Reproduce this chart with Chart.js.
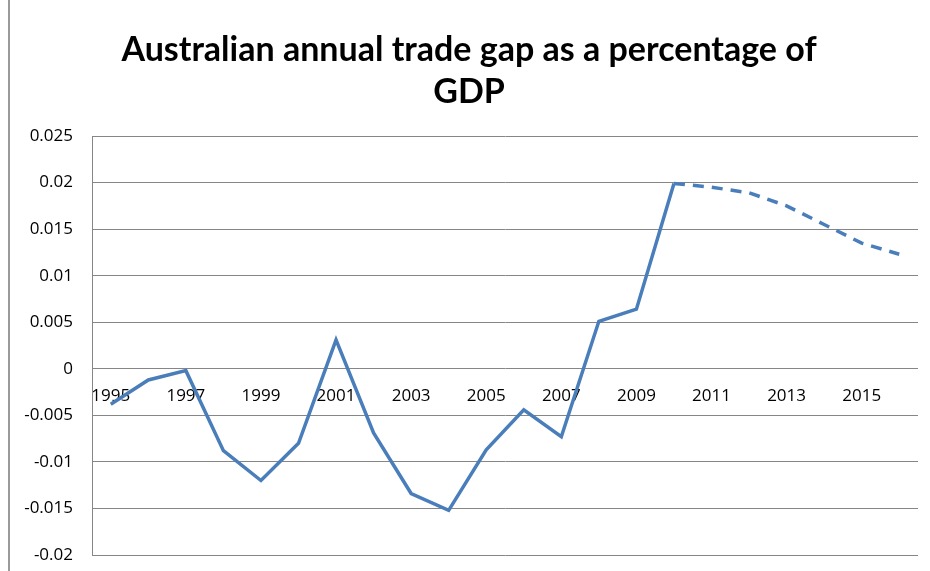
<!DOCTYPE html>
<html>
<head>
<meta charset="utf-8">
<title>Australian annual trade gap</title>
<script src="https://cdn.jsdelivr.net/npm/chart.js@4"></script>
<style>
  html, body { margin: 0; padding: 0; background: #fff; }
  #wrap { position: relative; width: 930px; height: 571px; }
  #edge { position: absolute; left: 8px; top: 0; bottom: 0; border-left: 2px solid #9a9a9a; }
</style>
</head>
<body>
<div id="wrap">
  <div id="edge"></div>
  <canvas id="chart"></canvas>
</div>
<script>
const years = ["1995", "1996", "1997", "1998", "1999", "2000", "2001", "2002",
  "2003", "2004", "2005", "2006", "2007", "2008", "2009", "2010",
  "2011", "2012", "2013", "2014", "2015", "2016"]

// recorded gap, 1995 to 2010
const actualGap = [-0.0038, -0.0012, -0.0002, -0.0088, -0.0120, -0.0080, 0.0031, -0.0069,
  -0.0134, -0.0152, -0.0087, -0.0044, -0.0073, 0.0051, 0.0064, 0.0199]

// projected gap, 2011 to 2016
const projectedGap = [0.0195, 0.0189, 0.0175, 0.0155, 0.0135, 0.0123]

const yTicks = { min: -0.02, max: 0.025, step: 0.005 }

const lineColor = "#4a7ebb"
const gridColor = "#868686"
const tickFont = { family: "Open Sans", size: 17 }
const lastActual = actualGap.length - 1

new Chart(document.getElementById("chart"), {
  type: "line",
  data: {
    labels: years,
    datasets: [{
      data: actualGap.concat(projectedGap),
      borderColor: lineColor,
      borderWidth: 3.5,
      pointRadius: 0,
      pointHoverRadius: 0,
      tension: 0,
      fill: false,
      segment: {
        borderDash: ctx => ctx.p0DataIndex >= lastActual ? [11, 8] : undefined
      }
    }]
  },
  options: {
    responsive: true,
    maintainAspectRatio: false,
    animation: false,
    layout: { padding: { left: 20, right: 12, top: 0, bottom: 16 } },
    plugins: {
      legend: { display: false },
      tooltip: { enabled: false },
      title: {
        display: true,
        text: ["Australian annual trade gap as a percentage of", "GDP"],
        color: "#000",
        font: { family: "Lato", size: 34, weight: "bold", lineHeight: 42 / 34 },
        padding: { top: 29, bottom: 23 }
      }
    },
    scales: {
      x: {
        position: { y: 0 },
        offset: true,
        grid: { display: false, drawTicks: false },
        border: { display: false },
        ticks: {
          autoSkip: false,
          maxRotation: 0,
          padding: 17,
          color: "#000",
          font: tickFont,
          callback: function (val, i) { return i % 2 ? "" : this.getLabelForValue(val) }
        },
        afterFit: scale => { scale.height = 0 }
      },
      y: {
        min: yTicks.min,
        max: yTicks.max,
        grid: { color: gridColor, lineWidth: 1, drawTicks: false },
        border: { color: gridColor, width: 1 },
        ticks: {
          stepSize: yTicks.step,
          padding: 19,
          color: "#000",
          font: tickFont,
          callback: v => String(+v.toFixed(3))
        },
        afterFit: scale => {
          scale.width = 72
          scale.paddingTop = 0
          scale.paddingBottom = 0
        }
      }
    }
  }
})
</script>
</body>
</html>
